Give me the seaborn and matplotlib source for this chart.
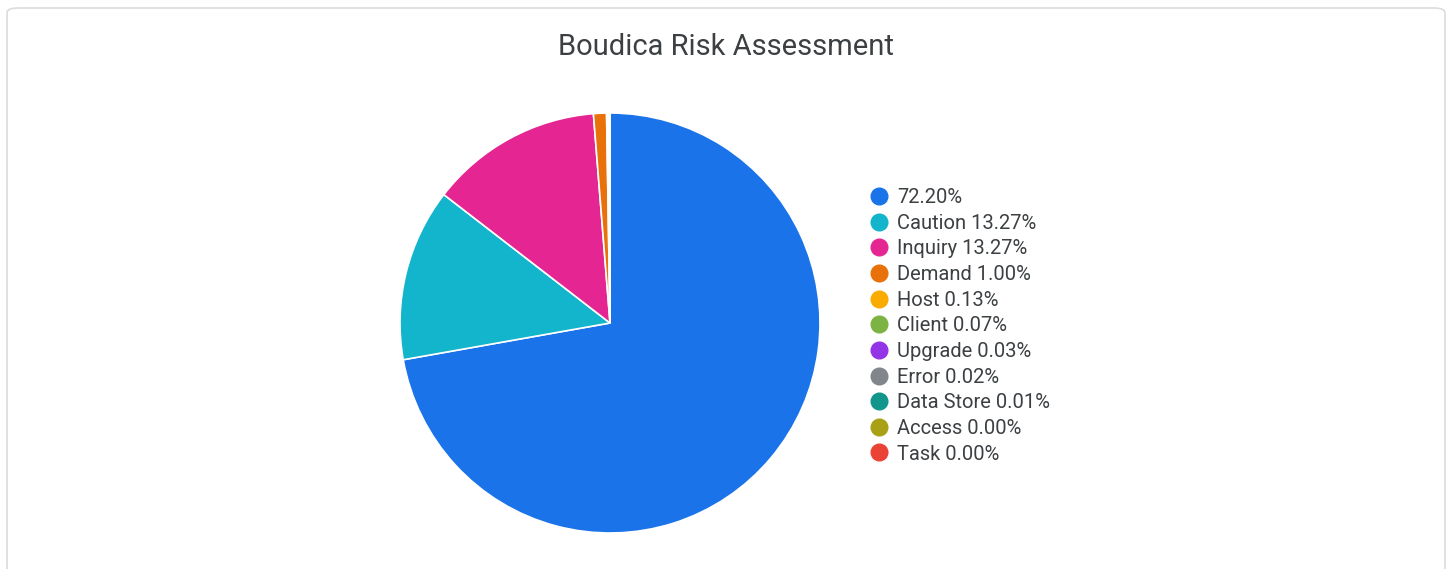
import matplotlib
matplotlib.use("Agg")
import matplotlib.pyplot as plt
from matplotlib.lines import Line2D
from matplotlib.patches import FancyBboxPatch
import seaborn as sns

# Risk categories and their share (%)
categories = ["", "Caution", "Inquiry", "Demand", "Host", "Client", "Upgrade",
              "Error", "Data Store", "Access", "Task"]
shares = [72.20, 13.27, 13.27, 1.00, 0.13, 0.07, 0.03, 0.02, 0.01, 0.00, 0.00]
colors = ["#1a73e8", "#12b5cb", "#e52592", "#e8710a", "#f9ab00", "#7cb342",
          "#9334e6", "#80868b", "#12968c", "#a8a116", "#ea4335"]

sns.set_theme(style="white")
plt.rcParams['font.family'] = ['Roboto', 'DejaVu Sans']

fig = plt.figure(figsize=(14.52, 5.69), dpi=100)

# card border
card = FancyBboxPatch((7 / 1452, -0.05), 1438 / 1452, 1.0 - 8 / 569 + 0.05,
                      boxstyle="round,pad=0,rounding_size=0.008",
                      transform=fig.transFigure, facecolor="none",
                      edgecolor="#dadce0", linewidth=1.2, zorder=-1)
fig.patches.append(card)

fig.text(726 / 1452, 1 - 47 / 569, "Boudica Risk Assessment", ha="center", va="center",
         fontsize=21, color="#3c4043")

ax = fig.add_axes([400 / 1452, 36 / 569, 420 / 1452, 420 / 569])
ax.pie(shares, colors=colors, startangle=90, counterclock=False,
       wedgeprops=dict(edgecolor="white", linewidth=1.2))
ax.set_xlim(-1.0, 1.0)
ax.set_ylim(-1.0, 1.0)
ax.set_aspect("equal")
ax.axis("off")

labels = [f"{c} {v:.2f}%".strip() for c, v in zip(categories, shares)]
handles = [Line2D([0], [0], marker="o", linestyle="", markersize=12,
                  markerfacecolor=col, markeredgecolor=col) for col in colors]
leg = fig.legend(handles, labels, loc="upper left",
                 bbox_to_anchor=(862 / 1452, 1 - 180 / 569), frameon=False,
                 fontsize=14.5, labelspacing=0.33, handletextpad=0.45,
                 handlelength=0.9, borderaxespad=0)
for t in leg.get_texts():
    t.set_color("#3c4043")

fig.savefig("out.png", dpi=100)
